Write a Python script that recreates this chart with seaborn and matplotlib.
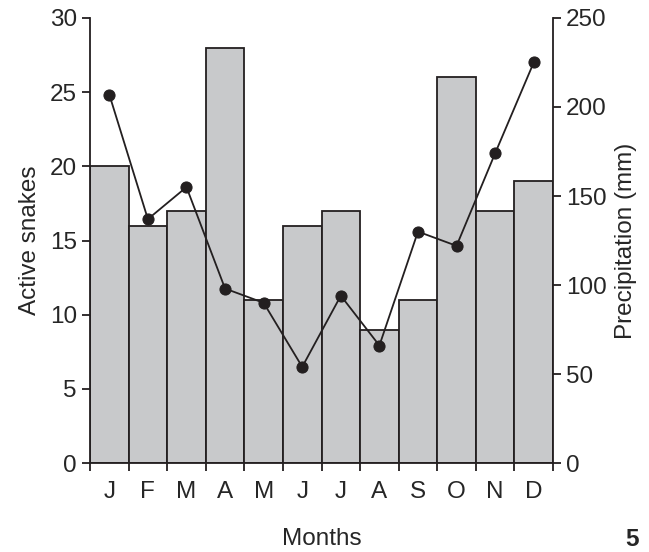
import numpy as np
import pandas as pd
import matplotlib
matplotlib.use("Agg")
import matplotlib.pyplot as plt
import seaborn as sns

months = ["Jan", "Feb", "Mar", "Apr", "May", "Jun", "Jul", "Aug", "Sep", "Oct", "Nov", "Dec"]
month_labels = ["J", "F", "M", "A", "M", "J", "J", "A", "S", "O", "N", "D"]
active_snakes = [20, 16, 17, 28, 11, 16, 17, 9, 11, 26, 17, 19]
precipitation = [207, 137, 155, 98, 90, 54, 94, 66, 130, 122, 174, 225]

sns.set_style("ticks")
plt.rcParams["font.family"] = ["Liberation Sans", "DejaVu Sans"]

df = pd.DataFrame({"Month": months, "Snakes": active_snakes, "Precip": precipitation})

fs = 17.5
fig = plt.figure(figsize=(6.49, 5.52), dpi=100)
ax = fig.add_axes([0.1387, 0.1612, 0.7134, 0.8062])

sns.barplot(data=df, x="Month", y="Snakes", order=months, width=1.0,
            color="#c8c9cb", edgecolor="#231f20", linewidth=1.3,
            saturation=1, ax=ax)
ax.set_xlim(-0.5, 11.5)
ax.set_ylim(0, 30)
ax.set_yticks(np.arange(0, 31, 5))

# boundaries get tick marks, labels sit in the middle of each bar
ax.set_xticks(np.arange(-0.5, 12, 1))
ax.set_xticklabels([])
ax.set_xticks(np.arange(12), minor=True)
ax.set_xticklabels(month_labels, minor=True)
ax.tick_params(axis="x", which="major", length=6, width=1.3, color="#231f20")
ax.tick_params(axis="x", which="minor", length=0, pad=13, labelsize=fs)
ax.tick_params(axis="y", length=6, width=1.3, labelsize=fs, color="#231f20")
ax.set_xlabel("Months", fontsize=fs, labelpad=18)
ax.set_ylabel("Active snakes", fontsize=fs, labelpad=6)

ax2 = ax.twinx()
sns.lineplot(x=np.arange(12), y=df["Precip"], marker="o", markersize=8,
             color="#231f20", linewidth=1.3, markeredgecolor="#231f20", ax=ax2)
ax2.set_ylim(0, 250)
ax2.set_yticks(np.arange(0, 251, 50))
ax2.tick_params(axis="y", length=6, width=1.3, labelsize=fs, color="#231f20")
ax2.set_ylabel("Precipitation (mm)", fontsize=fs, labelpad=6)
ax2.set_xlim(-0.5, 11.5)

for a in (ax, ax2):
    a.spines["top"].set_visible(False)
    for s in ("left", "right", "bottom"):
        a.spines[s].set_linewidth(1.3)
        a.spines[s].set_color("#231f20")
ax.spines["right"].set_visible(False)
ax2.spines["left"].set_visible(False)
ax2.spines["bottom"].set_visible(False)

fig.text(0.985, 0.002, "5", fontsize=fs, fontweight="bold", ha="right", va="bottom")

fig.savefig("out.png", dpi=100)
